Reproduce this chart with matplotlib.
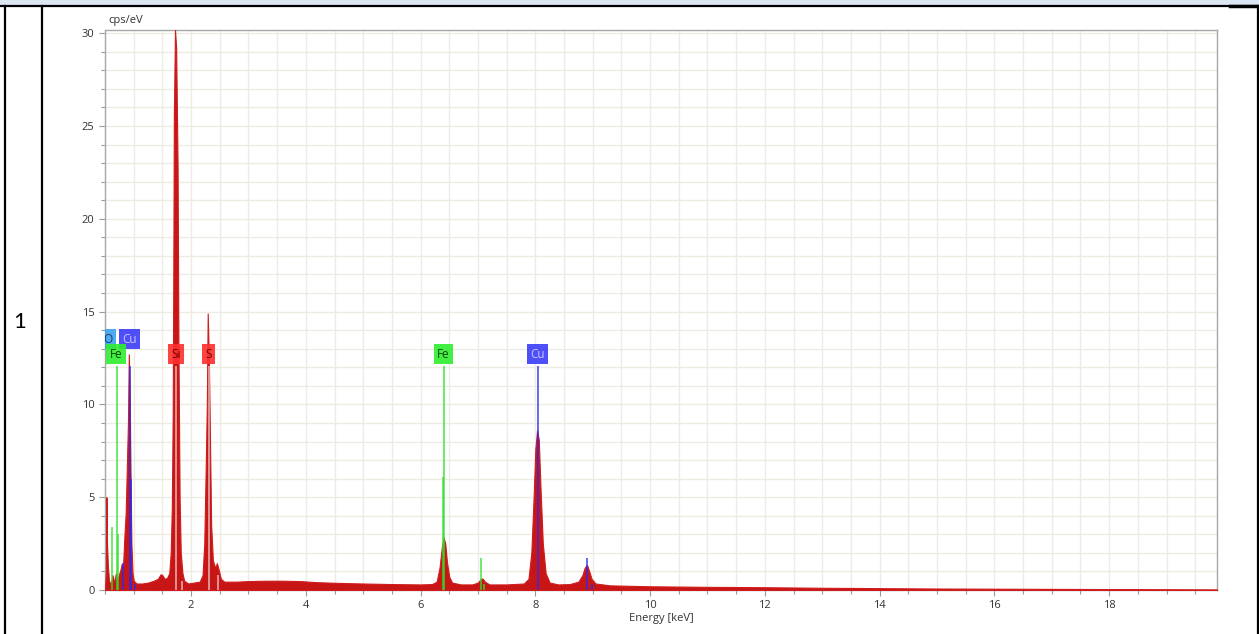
import numpy as np
import matplotlib.pyplot as plt
from matplotlib.ticker import MultipleLocator

# spectrum (energy keV, cps/eV)
energy = [0.50, 0.515, 0.525, 0.535, 0.55, 0.57, 0.60, 0.63, 0.66, 0.69, 0.71,
          0.74, 0.77, 0.79, 0.81, 0.84, 0.86, 0.88, 0.90, 0.915, 0.93, 0.945,
          0.96, 0.98, 1.00, 1.05, 1.15, 1.25, 1.35, 1.42, 1.47, 1.50, 1.54,
          1.58, 1.62, 1.645, 1.665, 1.68, 1.69, 1.70, 1.72, 1.74, 1.765, 1.78,
          1.80, 1.82, 1.85, 1.88, 1.95, 2.05, 2.15, 2.20, 2.23, 2.255, 2.275,
          2.29, 2.31, 2.33, 2.35, 2.38, 2.42, 2.45, 2.48, 2.52, 2.58, 2.8,
          3.0, 3.3, 3.6, 3.9, 4.2, 4.6, 5.0, 5.5, 6.0, 6.2, 6.28, 6.33, 6.37,
          6.40, 6.43, 6.46, 6.50, 6.55, 6.7, 6.9, 7.00, 7.05, 7.08, 7.12, 7.2,
          7.5, 7.8, 7.88, 7.93, 7.97, 8.00, 8.03, 8.06, 8.09, 8.13, 8.18, 8.25,
          8.4, 8.6, 8.75, 8.82, 8.86, 8.90, 8.94, 8.98, 9.05, 9.3, 10.0, 11.0,
          12.0, 13.0, 14.0, 15.0, 16.0, 17.0, 18.0, 19.0, 19.88]
cps = [0.0, 1.0, 5.0, 2.5, 1.3, 0.5, 0.3, 0.8, 0.4, 0.9, 0.5,
       0.8, 1.1, 1.4, 1.0, 3.0, 4.1, 6.5, 9.0, 12.7, 10.6, 6.2,
       2.5, 0.9, 0.5, 0.35, 0.35, 0.4, 0.5, 0.6, 0.85, 0.8, 0.6,
       0.65, 0.9, 2.0, 4.5, 9.5, 16.6, 25.5, 30.2, 29.2, 22.8, 13.0,
       5.0, 2.0, 0.9, 0.5, 0.35, 0.4, 0.45, 0.8, 2.5, 6.5, 10.0,
       14.9, 12.5, 8.0, 3.5, 1.6, 1.2, 1.45, 1.1, 0.6, 0.45, 0.45,
       0.48, 0.5, 0.5, 0.48, 0.42, 0.38, 0.35, 0.32, 0.3, 0.32, 0.45, 1.2, 2.3,
       2.85, 2.5, 1.5, 0.7, 0.4, 0.3, 0.3, 0.4, 0.6, 0.62, 0.45, 0.3,
       0.3, 0.35, 0.6, 2.0, 5.0, 7.6, 8.6, 8.1, 5.5, 2.5, 0.9, 0.4,
       0.3, 0.32, 0.45, 0.8, 1.2, 1.35, 1.0, 0.6, 0.35, 0.25, 0.2, 0.17,
       0.15, 0.12, 0.1, 0.08, 0.07, 0.06, 0.05, 0.04, 0.03]

# element marker lines (element, energy, height)
line_elem = ['Fe', 'Fe', 'Fe', 'Cu', 'Cu', 'Cu', 'Cu', 'Si', 'Si', 'S', 'S',
             'Fe', 'Fe', 'Fe', 'Fe', 'Cu', 'Cu', 'Cu']
line_energy = [0.615, 0.705, 0.718, 0.811, 0.93, 0.95, 1.02, 1.74, 1.836, 2.307, 2.464,
               6.40, 6.39, 7.058, 7.11, 8.04, 8.905, 8.98]
line_height = [3.4, 12.05, 3.0, 1.45, 12.05, 6.0, 0.35, 12.05, 0.5, 12.05, 0.8,
               12.05, 6.1, 1.7, 0.3, 12.05, 1.75, 0.35]

# element labels (text, energy, height)
label_text = ['O', 'Cu', 'Fe', 'Si', 'S', 'Fe', 'Cu']
label_energy = [0.555, 0.93, 0.69, 1.74, 2.307, 6.40, 8.04]
label_height = [13.5, 13.5, 12.7, 12.7, 12.7, 12.7, 12.7]

box_colors = {'O': '#3aa2f0', 'Cu': '#3c3cf8', 'Fe': '#30ee30',
              'Si': '#ff2e2e', 'S': '#ff2e2e'}
text_colors = {'O': '#1a3a60', 'Cu': '#c8c8ff', 'Fe': '#0a4a0a',
               'Si': '#6a0000', 'S': '#6a0000'}
line_colors = {'Cu': '#2a2af0', 'Fe': '#30e030', 'Si': '#e8c8c8', 'S': '#e8c8c8'}

fig = plt.figure(figsize=(12.59, 6.34), dpi=100)
W, H = 1259, 634

# table frame around the chart
fig.patches.append(plt.Rectangle((0, 1 - 5 / H), 1, 5 / H, transform=fig.transFigure,
                                 facecolor='#dce6f2', edgecolor='none'))
fig.add_artist(plt.Line2D([0, 1], [1 - 5.5 / H] * 2, color='black', lw=1.6))
fig.add_artist(plt.Line2D([1230 / W, 1], [1 - 6 / H] * 2, color='black', lw=2.5))
for xp in (5, 42, 1257.5):
    fig.add_artist(plt.Line2D([xp / W] * 2, [0, 1 - 5.5 / H], color='black', lw=1.6))
fig.text(20 / W, 1 - 322 / H, '1', fontsize=16, family='Lato',
         ha='center', va='center', color='black')

ax = fig.add_axes([105 / W, 1 - 590 / H, (1217 - 105) / W, (590 - 29.5) / H])
ax.set_xlim(0.5, 19.88)
ax.set_ylim(0, 30.2)

ax.fill_between(energy, cps, 0, color='#c81616', lw=0.8, edgecolor='#d01c1c', zorder=3)

for el, e, h in zip(line_elem, line_energy, line_height):
    ax.vlines(e, 0, h, color=line_colors[el], lw=1.1, alpha=0.9, zorder=4)

for t, e, h in zip(label_text, label_energy, label_height):
    ax.text(e, h, t, fontsize=8.5, family='Open Sans', ha='center', va='center',
            color=text_colors[t], zorder=6, clip_on=True,
            bbox=dict(boxstyle='square,pad=0.3', facecolor=box_colors[t],
                      edgecolor='none', alpha=0.9))

ax.xaxis.set_major_locator(MultipleLocator(2))
ax.xaxis.set_minor_locator(MultipleLocator(0.5))
ax.yaxis.set_major_locator(MultipleLocator(5))
ax.yaxis.set_minor_locator(MultipleLocator(1))
ax.grid(which='both', color='#eeebe3', lw=1.0, zorder=0)
ax.set_axisbelow(True)
ax.tick_params(which='both', colors='#9a9a9a', labelcolor='#333333',
               labelsize=8, length=4, width=0.8)
ax.tick_params(which='minor', length=3)
for lab in ax.get_xticklabels() + ax.get_yticklabels():
    lab.set_family('Open Sans')
for s in ax.spines.values():
    s.set_color('#a8a8a8')
    s.set_linewidth(1.0)

ax.set_xlabel('Energy [keV]', fontsize=8, family='Open Sans', color='#333333',
              labelpad=1)
fig.text(108 / W, 1 - 20 / H, 'cps/eV', fontsize=8, family='Open Sans',
         color='#333333', ha='left', va='center')

fig.savefig('out.png', dpi=100, facecolor='white')
